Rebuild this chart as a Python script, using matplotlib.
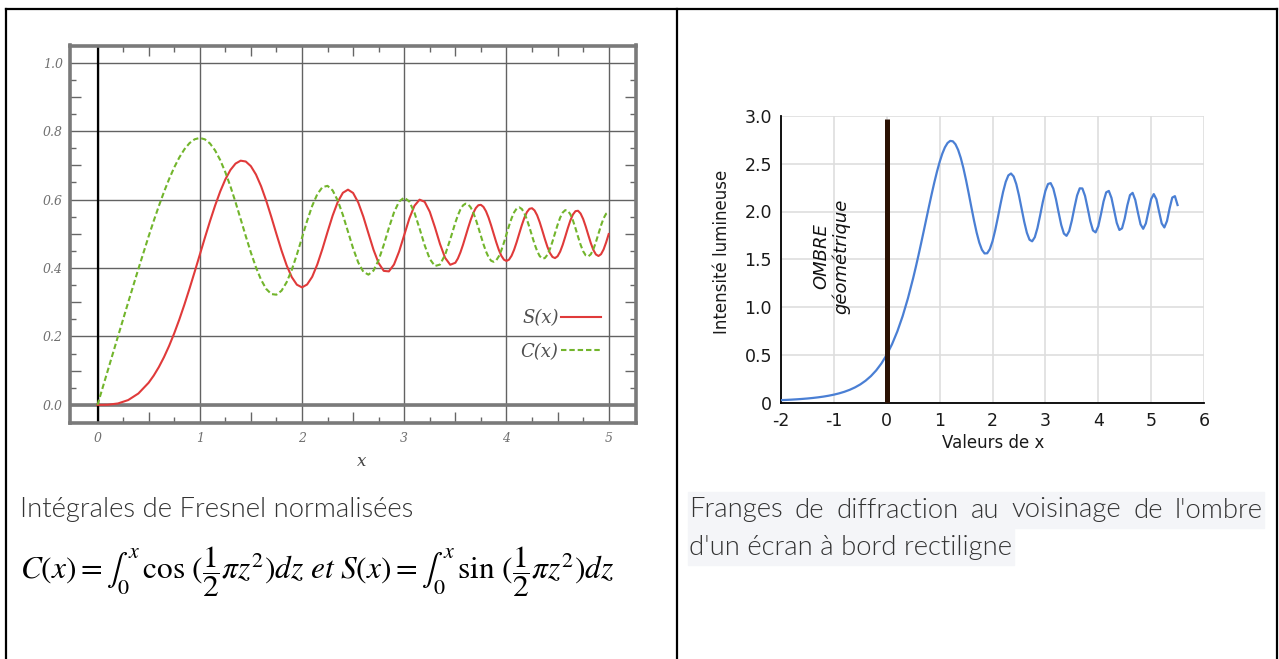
import matplotlib.pyplot as plt
from matplotlib.lines import Line2D
from matplotlib.patches import Rectangle
from matplotlib.ticker import FixedLocator

plt.rcParams['axes.unicode_minus'] = False
plt.rcParams['mathtext.fontset'] = 'stix'

# --- données ---
x_fresnel = [0.0, 0.1, 0.2, 0.3, 0.4, 0.5,
             0.55, 0.6, 0.65, 0.7, 0.75, 0.8, 0.85, 0.9, 0.95, 1.0,
             1.05, 1.1, 1.15, 1.2, 1.25, 1.3, 1.35, 1.4, 1.45, 1.5,
             1.55, 1.6, 1.65, 1.7, 1.75, 1.8, 1.85, 1.9, 1.95, 2.0,
             2.05, 2.1, 2.15, 2.2, 2.25, 2.3, 2.35, 2.4, 2.45, 2.5,
             2.55, 2.6, 2.65, 2.7, 2.75, 2.8, 2.85, 2.9, 2.95, 3.0,
             3.05, 3.1, 3.15, 3.2, 3.25, 3.3, 3.35, 3.4, 3.45,
             3.5, 3.525, 3.55, 3.575, 3.6, 3.625, 3.65, 3.675, 3.7, 3.725,
             3.75, 3.775, 3.8, 3.825, 3.85, 3.875, 3.9, 3.925, 3.95, 3.975,
             4.0, 4.025, 4.05, 4.075, 4.1, 4.125, 4.15, 4.175, 4.2, 4.225,
             4.25, 4.275, 4.3, 4.325, 4.35, 4.375, 4.4, 4.425, 4.45, 4.475,
             4.5, 4.525, 4.55, 4.575, 4.6, 4.625, 4.65, 4.675, 4.7, 4.725,
             4.75, 4.775, 4.8, 4.825, 4.85, 4.875, 4.9, 4.925, 4.95, 4.975, 5.0]
C_fresnel = [0.0, 0.09999, 0.19992, 0.2994, 0.39748, 0.49234,
             0.53771, 0.5811, 0.62196, 0.65965, 0.69353, 0.72284, 0.74685, 0.76482, 0.77603, 0.77989,
             0.7759, 0.76381, 0.74355, 0.71544, 0.68008, 0.63855, 0.59225, 0.5431, 0.49325, 0.44526,
             0.40177, 0.36546, 0.33882, 0.32383, 0.32198, 0.33363, 0.35842, 0.39447, 0.4391, 0.48825,
             0.53752, 0.58156, 0.61569, 0.63629, 0.63994, 0.62656, 0.59683, 0.55496, 0.50609, 0.45742,
             0.41617, 0.38894, 0.3805, 0.39249, 0.42329, 0.46749, 0.51706, 0.56238, 0.59421, 0.60572,
             0.59406, 0.56159, 0.5154, 0.46632, 0.42635, 0.40569, 0.41003, 0.43849, 0.48355,
             0.53257, 0.55406, 0.57129, 0.58289, 0.58795, 0.58596, 0.57712, 0.56201, 0.54195, 0.51846,
             0.49359, 0.46943, 0.4481, 0.43151, 0.42111, 0.41798, 0.42233, 0.43393, 0.45162, 0.47385,
             0.49843, 0.52302, 0.54517, 0.56264, 0.5737, 0.57707, 0.57247, 0.56023, 0.54172, 0.51878,
             0.49398, 0.46997, 0.44944, 0.43477, 0.42758, 0.42885, 0.43833, 0.45511, 0.47709, 0.50175,
             0.52603, 0.54695, 0.56194, 0.56897, 0.56724, 0.55678, 0.53906, 0.51623, 0.49143, 0.46789,
             0.44883, 0.43695, 0.4338, 0.44004, 0.45464, 0.47574, 0.50016, 0.52446, 0.54504, 0.55875,
             0.56363]
S_fresnel = [0.0, 0.00052, 0.00419, 0.01412, 0.03336, 0.06473,
             0.08572, 0.11054, 0.13934, 0.17214, 0.20889, 0.24934, 0.29316, 0.33978, 0.38847, 0.43826,
             0.48805, 0.5365, 0.58215, 0.6234, 0.65865, 0.68633, 0.705, 0.71353, 0.71109, 0.6975,
             0.67304, 0.63889, 0.59672, 0.5492, 0.49937, 0.45094, 0.4077, 0.37335, 0.35118, 0.34342,
             0.35169, 0.37427, 0.41054, 0.4557, 0.50537, 0.55315, 0.59306, 0.61969, 0.62885, 0.61918,
             0.59146, 0.54999, 0.50105, 0.45292, 0.41401, 0.39153, 0.39005, 0.41014, 0.44814, 0.49631,
             0.54445, 0.58181, 0.5996, 0.59335, 0.56421, 0.51929, 0.47004, 0.42965, 0.40939,
             0.41524, 0.42787, 0.44585, 0.46791, 0.49231, 0.51715, 0.54044, 0.56026, 0.57498, 0.5833,
             0.58453, 0.57844, 0.56562, 0.54704, 0.52442, 0.49971, 0.47521, 0.45317, 0.43566, 0.42443,
             0.42052, 0.42446, 0.43576, 0.4535, 0.4758, 0.50047, 0.5249, 0.54658, 0.5632, 0.57286,
             0.5746, 0.56803, 0.554, 0.53389, 0.5101, 0.48525, 0.46227, 0.4439, 0.43229, 0.42898,
             0.43427, 0.44773, 0.46755, 0.49141, 0.51619, 0.53875, 0.55617, 0.56604, 0.56715, 0.55913,
             0.54322, 0.52138, 0.49675, 0.47269, 0.45261, 0.43947, 0.43507, 0.44027, 0.45414, 0.47487,
             0.49919]

x_fringe = [-2.0, -1.9, -1.8, -1.7, -1.6, -1.5, -1.4, -1.3, -1.2, -1.1, -1.0, -0.9, -0.8,
            -0.7, -0.6, -0.5, -0.4, -0.3, -0.2, -0.1,
            0.0, 0.1, 0.2, 0.3, 0.4, 0.5,
            0.55, 0.6, 0.65, 0.7, 0.75, 0.8, 0.85, 0.9, 0.95, 1.0,
            1.05, 1.1, 1.15, 1.2, 1.25, 1.3, 1.35, 1.4, 1.45, 1.5,
            1.55, 1.6, 1.65, 1.7, 1.75, 1.8, 1.85, 1.9, 1.95, 2.0,
            2.05, 2.1, 2.15, 2.2, 2.25, 2.3, 2.35, 2.4, 2.45, 2.5,
            2.55, 2.6, 2.65, 2.7, 2.75, 2.8, 2.85, 2.9, 2.95, 3.0,
            3.05, 3.1, 3.15, 3.2, 3.25, 3.3, 3.35, 3.4, 3.45, 3.5,
            3.55, 3.6, 3.65, 3.7, 3.75, 3.8, 3.85, 3.9, 3.95, 4.0,
            4.05, 4.1, 4.15, 4.2, 4.25, 4.3, 4.35, 4.4, 4.45, 4.5,
            4.55, 4.6, 4.65, 4.7, 4.75, 4.8, 4.85, 4.9, 4.95, 5.0,
            5.05, 5.1, 5.15, 5.2, 5.25, 5.3, 5.35, 5.4, 5.45, 5.5]
I_fringe = [0.0247, 0.0272, 0.0301, 0.0335, 0.0374, 0.042, 0.0475, 0.0539, 0.0616, 0.0709,
            0.0822, 0.0958, 0.1125, 0.133, 0.1583, 0.1895, 0.2283, 0.2763, 0.3359, 0.4095,
            0.5, 0.6105, 0.7441, 0.9034, 1.0899, 1.3037,
            1.4199, 1.5415, 1.6676, 1.7966, 1.927, 2.0569, 2.1837, 2.305, 2.4176, 2.5185,
            2.6042, 2.6716, 2.7175, 2.7393, 2.7351, 2.7037, 2.645, 2.5607, 2.4533, 2.3275,
            2.1892, 2.0461, 1.9064, 1.7795, 1.6744, 1.5992, 1.5608, 1.5628, 1.6064, 1.688,
            1.8018, 1.9341, 2.0739, 2.2045, 2.3102, 2.3783, 2.3978, 2.3666, 2.2865, 2.1692,
            2.0307, 1.8927, 1.7774, 1.7046, 1.6879, 1.7309, 1.8266, 1.957, 2.0963, 2.2153,
            2.2879, 2.2973, 2.2402, 2.1292, 1.9907, 1.8592, 1.7691, 1.745, 1.7944, 1.9039,
            2.0423, 2.1683, 2.2427, 2.2412, 2.1634, 2.0344, 1.8979, 1.8017, 1.781, 1.8442,
            1.968, 2.105, 2.2006, 2.2156, 2.1428, 2.0124, 1.8807, 1.8064, 1.8239, 1.9256,
            2.0639, 2.1716, 2.1951, 2.1217, 1.9886, 1.8655, 1.8188, 1.8747, 2.0025, 2.1297,
            2.1822, 2.1282, 1.9997, 1.8753, 1.8329, 1.9001, 2.0338, 2.146, 2.1608, 2.0676]

edge_x = 0
edge_top = 2.97

left_xticks = [0, 1, 2, 3, 4, 5]
left_yticks = [0.0, 0.2, 0.4, 0.6, 0.8, 1.0]
left_yticklabels = ['0.0', '0.2', '0.4', '0.6', '0.8', '1.0']
right_xticks = [-2, -1, 0, 1, 2, 3, 4, 5, 6]
right_yticks = [0, 0.5, 1.0, 1.5, 2.0, 2.5, 3.0]
right_yticklabels = ['0', '0.5', '1.0', '1.5', '2.0', '2.5', '3.0']

caption_left = 'Intégrales de Fresnel normalisées'
formula = (r'$C(x)=\int_0^x\,\cos\,(\dfrac{1}{2}\pi z^2)dz\ et\ '
           r'S(x)=\int_0^x\,\sin\,(\dfrac{1}{2}\pi z^2)dz$')
caption_right_1 = "Franges de diffraction au voisinage de l'ombre"
caption_right_2 = "d'un écran à bord rectiligne"

W, H = 1279, 659


def box(l, t, r, b):
    return [l / W, 1 - b / H, (r - l) / W, (b - t) / H]


def fx(x):
    return x / W


def fy(y):
    return 1 - y / H


fig = plt.figure(figsize=(W / 100, H / 100), dpi=100)

# cadre du tableau
for x0, y0, x1, y1 in [(6, 9, 1277, 9), (6, 9, 6, 659), (677, 9, 677, 659), (1277, 9, 1277, 659)]:
    fig.add_artist(Line2D([fx(x0), fx(x1)], [fy(y0), fy(y1)], transform=fig.transFigure,
                          color='black', lw=1.6, solid_capstyle='projecting'))

# ---------- graphique de gauche : intégrales de Fresnel ----------
ax1 = fig.add_axes(box(70, 45.5, 636, 422.7))
ax1.set_xlim(-0.269, 5.267)
ax1.set_ylim(-0.052, 1.050)
ax1.set_xticks(left_xticks)
ax1.set_yticks(left_yticks)
ax1.set_yticklabels(left_yticklabels)
ax1.grid(True, color='#626262', lw=1.0)
ax1.set_axisbelow(True)
for sp in ax1.spines.values():
    sp.set_color('#7a7a7a')
    sp.set_linewidth(2.6)
ax1.tick_params(which='major', length=0, labelsize=9, labelcolor='#707070')
ax1.tick_params(axis='x', which='major', pad=7)
ax1.tick_params(axis='y', which='major', pad=5)
for lab in ax1.get_xticklabels() + ax1.get_yticklabels():
    lab.set_fontstyle('italic')
    lab.set_family('DejaVu Serif')

ax1.xaxis.set_minor_locator(FixedLocator([0.25, 0.75, 1.25, 1.75, 2.25, 2.75, 3.25, 3.75, 4.25, 4.75]))
ax1.yaxis.set_minor_locator(FixedLocator([0.05, 0.15, 0.25, 0.35, 0.45, 0.55, 0.65, 0.75, 0.85, 0.95]))
ax1.tick_params(which='minor', direction='in', length=4.5, width=1.0, color='#666666',
                top=True, right=True, bottom=True, left=True)

for side in ['bottom', 'top']:
    sec = ax1.secondary_xaxis(side)
    sec.set_xticks([0.5, 1.5, 2.5, 3.5, 4.5])
    sec.tick_params(direction='in', length=8, width=1.0, color='#666666',
                    labelbottom=False, labeltop=False)
    for sp in sec.spines.values():
        sp.set_visible(False)
for side in ['left', 'right']:
    sec = ax1.secondary_yaxis(side)
    sec.set_yticks([0.1, 0.3, 0.5, 0.7, 0.9])
    sec.tick_params(direction='in', length=8, width=1.0, color='#666666',
                    labelleft=False, labelright=False)
    for sp in sec.spines.values():
        sp.set_visible(False)

ax1.axhline(0, color='#7a7a7a', lw=2.6, zorder=1.5)
ax1.axvline(0, color='black', lw=1.6, zorder=1.6)

ax1.plot(x_fresnel, S_fresnel, color='#e03a3a', lw=1.5, label='S(x)', zorder=3,
         solid_joinstyle='round')
ax1.plot(x_fresnel, C_fresnel, color='#72b52c', lw=1.5, dashes=(2.6, 1.4), label='C(x)', zorder=3,
         dash_joinstyle='round')

ax1.legend(loc='center right', bbox_to_anchor=(fx(601), fy(335)), bbox_transform=fig.transFigure,
           markerfirst=False, frameon=False, labelcolor='#505050',
           prop={'family': 'DejaVu Serif', 'style': 'italic', 'size': 13},
           handlelength=2.2, handletextpad=0.15, labelspacing=0.85, borderpad=0, borderaxespad=0)

fig.text(fx(362), fy(462), 'x', family='DejaVu Serif', style='italic', size=12,
         color='#444444', ha='center', va='center')

# ---------- graphique de droite : franges ----------
ax2 = fig.add_axes(box(781, 116, 1204, 402.5))
ax2.set_xlim(-2, 6)
ax2.set_ylim(0, 3)
ax2.set_xticks(right_xticks)
ax2.set_yticks(right_yticks)
ax2.set_yticklabels(right_yticklabels)
ax2.grid(True, color='#dedede', lw=1.2)
ax2.set_axisbelow(True)
ax2.spines['top'].set_visible(False)
ax2.spines['right'].set_visible(False)
ax2.spines['left'].set_linewidth(1.3)
ax2.spines['bottom'].set_linewidth(1.3)
ax2.tick_params(length=0, labelsize=12.5, pad=6.5, labelcolor='#1a1a1a')

ax2.plot(x_fringe, I_fringe, color='#4a7fd4', lw=1.6, zorder=3, solid_joinstyle='round')
ax2.vlines(edge_x, 0, edge_top, color='#2b1204', lw=3.6, zorder=4)
ax2.text(-1.055, 1.534, 'OMBRE\ngéométrique', rotation=90, style='italic', size=13,
         ha='center', va='center', multialignment='center', color='#111111', linespacing=1.1)

fig.text(fx(722), fy(252), 'Intensité lumineuse', rotation=90, size=12,
         ha='center', va='center', color='#1a1a1a')
fig.text(fx(993), fy(443), 'Valeurs de x', size=12, ha='center', va='center', color='#1a1a1a')

# ---------- légendes texte ----------
cap = dict(family='Lato', weight=300, color='#333333')
t1 = fig.text(fx(20), fy(509), caption_left, ha='left', va='center', size=16, **cap)
t2 = fig.text(fx(20), fy(572), formula, ha='left', va='center', size=18, color='black')

fig.canvas.draw()
r = fig.canvas.get_renderer()
size_cap = 16 * 393 / t1.get_window_extent(r).width
t1.set_fontsize(size_cap)
t2.set_fontsize(18 * 595 / t2.get_window_extent(r).width)

# ligne 1 justifiée
words = caption_right_1.split()
wts = [fig.text(0, 0, w, size=size_cap, ha='left', va='center', **cap) for w in words]
fig.canvas.draw()
widths = [t.get_window_extent(r).width for t in wts]
gap = (1263 - 689 - sum(widths)) / (len(words) - 1)
xpos = 689
for t, w in zip(wts, widths):
    t.set_position((fx(xpos), fy(510)))
    xpos += w + gap
t3 = fig.text(fx(689), fy(547), caption_right_2, ha='left', va='center', size=size_cap, **cap)
fig.canvas.draw()
w3 = t3.get_window_extent(r).width

bg = '#f4f5f8'
fig.add_artist(Rectangle((fx(688), fy(528)), (1264 - 688) / W, 36 / H,
                         transform=fig.transFigure, color=bg, zorder=-1))
fig.add_artist(Rectangle((fx(688), fy(565)), (w3 + 3) / W, 37 / H,
                         transform=fig.transFigure, color=bg, zorder=-1))

fig.savefig('out.png', dpi=100)
